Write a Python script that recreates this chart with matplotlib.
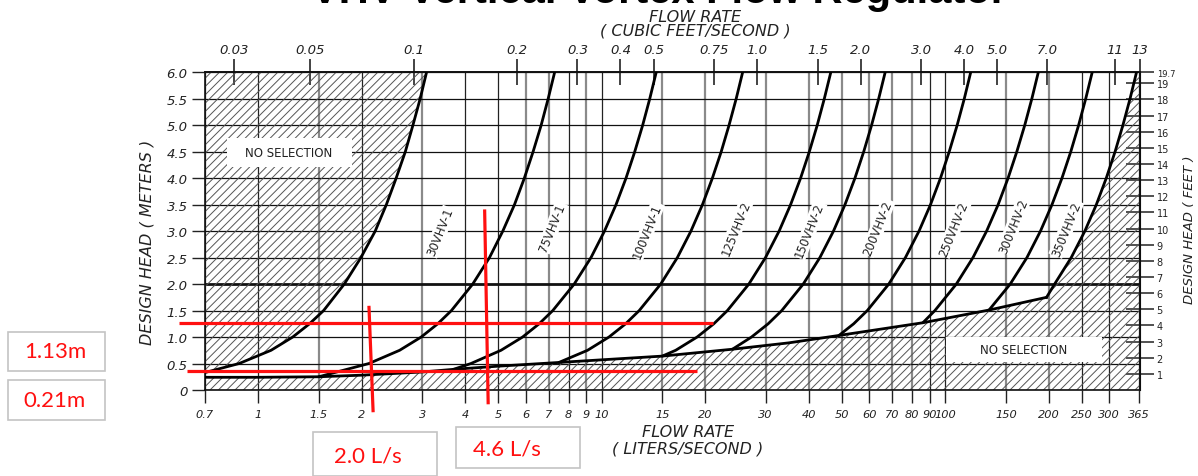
import matplotlib
matplotlib.use("Agg")
import matplotlib.pyplot as plt
from matplotlib.ticker import NullLocator
from matplotlib.patches import Rectangle

W, H, DPI = 1198, 477, 100


def fx(px):
    return px / W


def fy(py):
    return 1 - py / H


# ---------------- data ----------------
ls_ticks = [0.7, 1, 1.5, 2, 3, 4, 5, 6, 7, 8, 9, 10, 15, 20, 30, 40, 50, 60, 70,
            80, 90, 100, 150, 200, 250, 300, 365]
ls_labels = ["0.7", "1", "1.5", "2", "3", "4", "5", "6", "7", "8", "9", "10", "15",
             "20", "30", "40", "50", "60", "70", "80", "90", "100", "150", "200",
             "250", "300", "365"]
cfs_ticks = [0.03, 0.05, 0.1, 0.2, 0.3, 0.4, 0.5, 0.75, 1.0, 1.5, 2.0, 3.0, 4.0,
             5.0, 7.0, 11, 13]
cfs_labels = ["0.03", "0.05", "0.1", "0.2", "0.3", "0.4", "0.5", "0.75", "1.0",
              "1.5", "2.0", "3.0", "4.0", "5.0", "7.0", "11", "13"]
m_ticks = [0, 0.5, 1.0, 1.5, 2.0, 2.5, 3.0, 3.5, 4.0, 4.5, 5.0, 5.5, 6.0]
m_labels = ["0", "0.5", "1.0", "1.5", "2.0", "2.5", "3.0", "3.5", "4.0", "4.5",
            "5.0", "5.5", "6.0"]
ft_ticks = [1, 2, 3, 4, 5, 6, 7, 8, 9, 10, 11, 12, 13, 14, 15, 16, 17, 18, 19, 19.7]
ft_labels = ["1", "2", "3", "4", "5", "6", "7", "8", "9", "10", "11", "12", "13",
             "14", "15", "16", "17", "18", "19", "19.7"]

# regulator curves: flow (L/s) vs design head (m)
q_30 = [0.70, 0.88, 1.09, 1.26, 1.41, 1.55, 1.78, 1.99, 2.19, 2.36, 2.52, 2.68, 2.82, 2.96, 3.09]
h_30 = [0.33, 0.5, 0.75, 1.0, 1.25, 1.5, 2.0, 2.5, 3.0, 3.5, 4.0, 4.5, 5.0, 5.5, 6.0]
q_75 = [1.50, 2.10, 2.58, 2.98, 3.33, 3.65, 4.21, 4.71, 5.15, 5.57, 5.95, 6.31, 6.66, 6.98, 7.29]
h_75 = [0.25, 0.5, 0.75, 1.0, 1.25, 1.5, 2.0, 2.5, 3.0, 3.5, 4.0, 4.5, 5.0, 5.5, 6.0]
q_100 = [3.70, 4.16, 5.09, 5.88, 6.57, 7.20, 8.31, 9.30, 10.18, 11.00, 11.76, 12.47, 13.15, 13.79, 14.4]
h_100 = [0.39, 0.5, 0.75, 1.0, 1.25, 1.5, 2.0, 2.5, 3.0, 3.5, 4.0, 4.5, 5.0, 5.5, 6.0]
q_125 = [7.5, 9.09, 10.49, 11.73, 12.85, 14.84, 16.59, 18.17, 19.63, 20.98, 22.26, 23.46, 24.61, 25.7]
h_125 = [0.52, 0.75, 1.0, 1.25, 1.5, 2.0, 2.5, 3.0, 3.5, 4.0, 4.5, 5.0, 5.5, 6.0]
q_150 = [15.0, 16.41, 18.94, 21.18, 23.2, 26.79, 29.95, 32.81, 35.44, 37.89, 40.18, 42.36, 44.42, 46.4]
h_150 = [0.64, 0.75, 1.0, 1.25, 1.5, 2.0, 2.5, 3.0, 3.5, 4.0, 4.5, 5.0, 5.5, 6.0]
q_200 = [24.0, 27.27, 30.49, 33.4, 38.57, 43.12, 47.23, 51.02, 54.54, 57.85, 60.98, 63.95, 66.8]
h_200 = [0.77, 1.0, 1.25, 1.5, 2.0, 2.5, 3.0, 3.5, 4.0, 4.5, 5.0, 5.5, 6.0]
q_250 = [49.0, 54.08, 59.25, 68.42, 76.49, 83.79, 90.51, 96.76, 102.6, 108.2, 113.5, 118.5]
h_250 = [1.03, 1.25, 1.5, 2.0, 2.5, 3.0, 3.5, 4.0, 4.5, 5.0, 5.5, 6.0]
q_300 = [86.0, 93.2, 107.6, 120.3, 131.8, 142.4, 152.2, 161.4, 170.2, 178.5, 186.4]
h_300 = [1.27, 1.5, 2.0, 2.5, 3.0, 3.5, 4.0, 4.5, 5.0, 5.5, 6.0]
q_350 = [134.0, 154.4, 172.7, 189.1, 204.3, 218.4, 231.7, 244.2, 256.1, 267.5]
h_350 = [1.51, 2.0, 2.5, 3.0, 3.5, 4.0, 4.5, 5.0, 5.5, 6.0]
# right-hand limit curve
q_lim = [197.0, 207.9, 232.4, 254.6, 275.0, 293.9, 311.8, 328.6, 344.7, 360.0]
h_lim = [1.75, 2.0, 2.5, 3.0, 3.5, 4.0, 4.5, 5.0, 5.5, 6.0]
# lower envelope
q_env = [0.7, 1.0, 1.5, 2.0, 3.0, 3.7, 5.0, 7.5, 10, 15, 24, 35, 49, 86, 134, 197]
h_env = [0.24, 0.24, 0.25, 0.28, 0.34, 0.39, 0.45, 0.52, 0.57, 0.64, 0.77, 0.89, 1.03, 1.27, 1.51, 1.75]

curve_names = ["30VHV-1", "75VHV-1", "100VHV-1", "125VHV-2", "150VHV-2",
               "200VHV-2", "250VHV-2", "300VHV-2", "350VHV-2"]
curve_q = [q_30, q_75, q_100, q_125, q_150, q_200, q_250, q_300, q_350]
curve_h = [h_30, h_75, h_100, h_125, h_150, h_200, h_250, h_300, h_350]
label_q = [3.38, 7.19, 13.55, 24.6, 40.2, 63.6, 105.9, 158.0, 225.0]
label_h = [2.99, 3.07, 3.01, 3.07, 3.02, 3.07, 3.05, 3.11, 3.05]

# red annotation lines (L/s, m)
red_q = [[0.59, 21.0], [0.62, 18.9], [2.10, 2.16], [4.56, 4.67]]
red_h = [[1.27, 1.27], [0.36, 0.36], [1.59, -0.42], [3.41, -0.27]]
red_notes = ["1.13m", "0.21m", "2.0 L/s", "4.6 L/s"]

gray_grid = [1.5, 3, 6, 7, 9, 15, 20, 30, 40, 50, 60, 70, 80, 150, 200]

LS_PER_CFS = 28.3168
FT_PER_M = 3.28084

plt.rcParams["font.family"] = ["DejaVu Sans"]
plt.rcParams["hatch.linewidth"] = 0.7
fig = plt.figure(figsize=(W / DPI, H / DPI), dpi=DPI)
ax = fig.add_axes([fx(205), fy(391), (1140 - 205) / W, (391 - 73) / H])
ax.set_xscale("log")
ax.set_xlim(0.7, 368.5)
ax.set_ylim(0, 6.005)

ax.set_xticks(ls_ticks, labels=ls_labels)
ax.xaxis.set_minor_locator(NullLocator())
ax.set_yticks(m_ticks, labels=m_labels)
ax.tick_params(axis="x", direction="out", length=9.5, width=1, pad=4, labelsize=8.2,
               colors="#222")
ax.tick_params(axis="y", direction="out", length=9.5, width=1, pad=3, labelsize=9.5,
               colors="#222")
for t in ax.get_xticklabels() + ax.get_yticklabels():
    t.set_fontstyle("italic")

for s in ax.spines.values():
    s.set_linewidth(1.2)
    s.set_color("#111")

# grid
ax.grid(True, which="major", axis="both", color="#222", linewidth=0.9, zorder=1)
for line, q in zip(ax.get_xgridlines(), ls_ticks):
    if q in gray_grid:
        line.set_color("#8a8a8a")
        line.set_linewidth(1.6)
for line, m in zip(ax.get_ygridlines(), m_ticks):
    line.set_color("#111")
    if m == 2.0:
        line.set_linewidth(2.0)
ax.set_axisbelow(True)

# hatched "no selection" regions
ax.fill_betweenx(h_30, [0.7] * len(h_30), q_30, facecolor="none",
                 edgecolor="#555555", hatch="////", linewidth=0, zorder=1.5)
poly_q = [0.7] + q_env + q_lim[1:] + [368.5, 368.5]
poly_h = [0] + h_env + h_lim[1:] + [6.005, 0]
ax.fill(poly_q, poly_h, facecolor="none", edgecolor="#555555", hatch="////",
        linewidth=0, zorder=1.5)

# no selection boxes
ax.add_patch(Rectangle((0.81, 4.22), 1.87 - 0.81, 0.53, facecolor="white",
                       edgecolor="none", zorder=2))
ax.text(1.23, 4.49, "NO SELECTION", ha="center", va="center", fontsize=8.5,
        color="#222", zorder=2.5)
ax.add_patch(Rectangle((100.3, 0.53), 285 - 100.3, 0.47, facecolor="white",
                       edgecolor="none", zorder=2))
ax.text(169, 0.76, "NO SELECTION", ha="center", va="center", fontsize=8.5,
        color="#222", zorder=2.5)

# curves
for q, h in zip(curve_q, curve_h):
    ax.plot(q, h, color="black", linewidth=2.0, zorder=3, solid_capstyle="round")
ax.plot(q_lim, h_lim, color="black", linewidth=2.0, zorder=3)
ax.plot(q_env, h_env, color="black", linewidth=2.0, zorder=3)

for name, q, h in zip(curve_names, label_q, label_h):
    ax.text(q, h, name, rotation=68, ha="center", va="center", fontsize=8.5,
            color="#222", zorder=4,
            bbox=dict(facecolor="white", edgecolor="none", pad=0.6))

# red annotation lines
for q, h in zip(red_q, red_h):
    ax.plot(q, h, color="#ff1010", linewidth=2.3, zorder=6, clip_on=False,
            solid_capstyle="butt")

# secondary axes
top = ax.secondary_xaxis("top", functions=(lambda q: q / LS_PER_CFS,
                                           lambda c: c * LS_PER_CFS))
top.set_xticks(cfs_ticks, labels=cfs_labels)
top.xaxis.set_minor_locator(NullLocator())
top.tick_params(axis="x", direction="inout", length=19, width=1.2, pad=2,
                labelsize=9.5, colors="#222")
for t in top.get_xticklabels():
    t.set_fontstyle("italic")
top.spines["top"].set_linewidth(1.2)

right = ax.secondary_yaxis("right", functions=(lambda m: m * FT_PER_M,
                                               lambda f: f / FT_PER_M))
right.set_yticks(ft_ticks, labels=ft_labels)
right.yaxis.set_minor_locator(NullLocator())
right.tick_params(axis="y", direction="inout", length=20, width=1.1, pad=2,
                  labelsize=7, colors="#222")
for t in right.get_yticklabels():
    if t.get_text() == "19.7":
        t.set_fontsize(6)

# axis titles
lab = dict(fontsize=11.5, color="#222", fontstyle="italic")
fig.text(fx(695), fy(17), "FLOW RATE", ha="center", va="center", **lab)
fig.text(fx(695), fy(31), "( CUBIC FEET/SECOND )", ha="center", va="center", **lab)
fig.text(fx(688), fy(433), "FLOW RATE", ha="center", va="center", **lab)
fig.text(fx(688), fy(449), "( LITERS/SECOND )", ha="center", va="center", **lab)
fig.text(fx(147), fy(242), "DESIGN HEAD ( METERS )", rotation=90, ha="center",
         va="center", **lab)
fig.text(fx(1190), fy(230), "DESIGN HEAD ( FEET )", rotation=90, ha="center",
         va="center", fontsize=9.5, color="#222", fontstyle="italic")

# cut-off title
fig.text(fx(659), fy(3), "VHV Vertical Vortex Flow Regulator", ha="center",
         va="baseline", fontsize=30, fontweight="bold", family="Liberation Sans",
         color="black")

# red note boxes (figure pixels)
note_boxes = [(8, 333, 105, 372), (8, 381, 105, 421), (313, 433, 437, 477),
              (456, 428, 580, 469)]
note_pos = [(55, 352), (55, 401), (368, 457), (507, 450)]
for (x0, y0, x1, y1), (tx, ty), txt in zip(note_boxes, note_pos, red_notes):
    fig.add_artist(Rectangle((fx(x0), fy(y1)), (x1 - x0) / W, (y1 - y0) / H,
                             transform=fig.transFigure, facecolor="white",
                             edgecolor="#c4c4c4", linewidth=1.2))
    fig.text(fx(tx), fy(ty), txt, ha="center", va="center", fontsize=16,
             color="#ff1010", family="Lato")

fig.savefig("out.png", dpi=DPI)
